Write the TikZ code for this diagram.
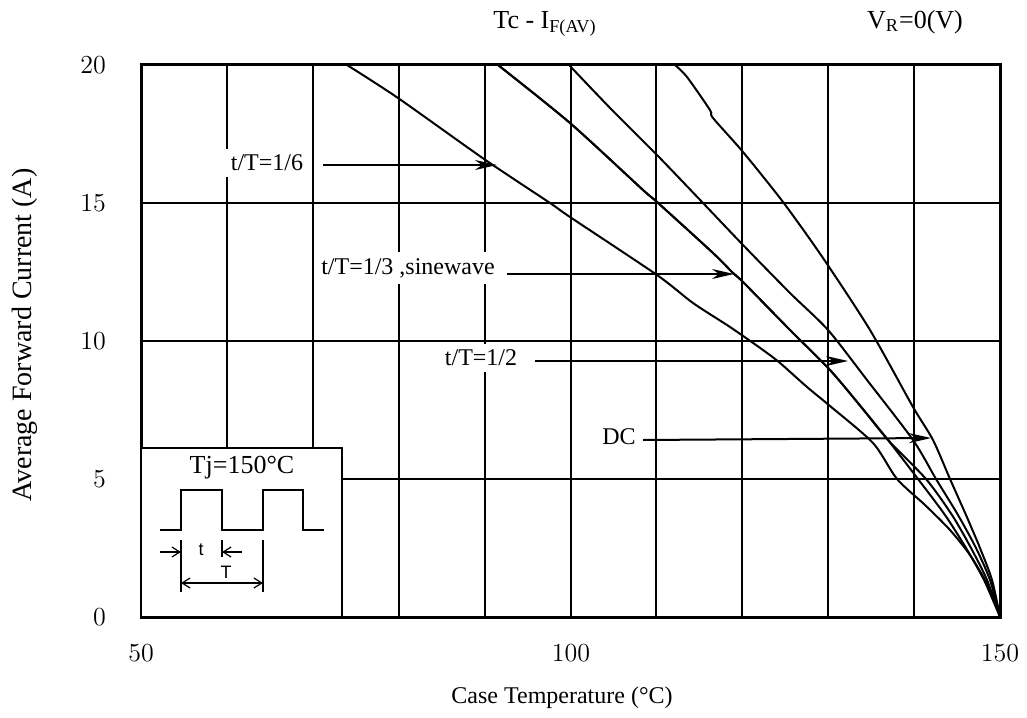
\documentclass[tikz,border=0pt]{standalone}
\usepackage{fontspec}
\newfontfamily\tnr{Liberation Serif}
\newfontfamily\arl{Liberation Sans}
\usetikzlibrary{arrows.meta}
\begin{document}
\begin{tikzpicture}[x=0.5pt,y=-0.5pt,
  gridline/.style={line width=1pt},
  frame/.style={line width=1.5pt},
  curve/.style={line width=1pt, smooth, tension=0.45},
  arr/.style={line width=1pt, -{Stealth[length=11pt,width=5pt,inset=3.5pt]}},
  smallarr/.style={line width=0.6pt},
  lab/.style={fill=white, inner sep=3pt, font=\tnr\fontsize{12}{14}\selectfont},
  num/.style={font=\fontsize{13}{15}\selectfont},
  ttl/.style={font=\tnr\fontsize{13}{15}\selectfont}]
\useasboundingbox (0,0) rectangle (1027,717);
% grid
\foreach \i in {1,...,9} \draw[gridline] ({141+85.9*\i},65) -- ({141+85.9*\i},617);
\foreach \yy in {203,341,479} \draw[gridline] (141,\yy) -- (1000,\yy);
\draw[frame] (141,65) rectangle (1000,617);
% labels with white background
\node[lab] (l16) at (267,163) {t/T=1/6};
\node[lab] (l13) at (408,268) {t/T=1/3 ,sinewave};
\node[lab] (l12) at (481,358) {t/T=1/2};
\node[lab] (ldc) at (619,437) {DC};
% curves
\draw[curve] plot coordinates {(347,65) (398,98) (484,159) (550,203) (570,217) (657,275) (693,303) (730,327) (763,350) (780,363) (807,387) (830,406) (873,443) (897,479) (925,505) (950,530) (970,555) (985,580) (995,600) (1000,617)};
\draw[curve] plot coordinates {(498,65) (570,123) (643,190) (657,202) (713,253) (733,273) (743,282) (790,330) (830,370) (862,408) (888,440) (918,479) (945,515) (966,548) (984,580) (1000,617)};
\draw[curve] plot coordinates {(498,65) (570,123) (643,190) (657,202) (713,253) (733,273) (743,282) (790,330) (830,370) (862,408) (888,440) (926,479) (952,515) (971,548) (987,580) (1000,617)};
\draw[curve] plot coordinates {(569,65) (612,110) (657,155) (703,203) (743,245) (790,293) (828,330) (867,380) (913,440) (936,479) (958,515) (976,548) (990,580) (1000,617)};
\draw[curve] plot coordinates {(675,65) (687,77) (710,110) (713,118) (743,152) (783,202) (823,258) (870,330) (913,407) (933,440) (950,479) (966,515) (980,548) (992,580) (1000,617)};
% arrows
\coordinate (s16) at (323,165); \coordinate (e16) at (497,165);
\coordinate (s13) at (507,274); \coordinate (e13) at (734,274);
\coordinate (s12) at (535,361); \coordinate (e12) at (848,361);
\coordinate (sdc) at (643,440); \coordinate (edc) at (931,438);
\draw[arr] (s16) -- (e16);
\draw[arr] (s13) -- (e13);
\draw[arr] (s12) -- (e12);
\draw[arr] (sdc) -- (edc);
% inset
\draw[fill=white, line width=1.3pt] (141,448) rectangle (342,617);
\node[ttl] (tj) at (242,468) {Tj=150°C};
\draw[line width=0.9pt] (160,530) -- (181,530) -- (181,490) -- (222,490) -- (222,530) -- (263,530) -- (263,490) -- (303,490) -- (303,530) -- (324,530);
\draw[smallarr] (181,540) -- (181,592);
\draw[smallarr] (222,540) -- (222,557);
\draw[smallarr] (263,540) -- (263,592);
\coordinate (ta1) at (160,552); \coordinate (ta2) at (181,552);
\coordinate (tb1) at (242,552); \coordinate (tb2) at (222,552);
\coordinate (Ta) at (181,583); \coordinate (Tb) at (263,583);
\draw[smallarr,-{Straight Barb[length=4pt,width=5pt]}] (ta1) -- (ta2);
\draw[smallarr,-{Straight Barb[length=4pt,width=5pt]}] (tb1) -- (tb2);
\draw[smallarr,{Straight Barb[length=4pt,width=5pt]}-{Straight Barb[length=4pt,width=5pt]}] (Ta) -- (Tb);
\node[font=\arl\fontsize{9}{10}\selectfont] (tt) at (201,550) {t};
\node[font=\arl\fontsize{9}{10}\selectfont] (TT) at (226,572) {T};
% axis numbers
\node[num,anchor=east] (y20) at (113,65) {20};
\node[num,anchor=east] (y15) at (113,203) {15};
\node[num,anchor=east] (y10) at (113,341) {10};
\node[num,anchor=east] (y5) at (113,479) {5};
\node[num,anchor=east] (y0) at (113,617) {0};
\node[num] (x50) at (141,653) {50};
\node[num] (x100) at (571,653) {100};
\node[num] (x150) at (1000,653) {150};
% axis titles
\node[rotate=90, font=\tnr\fontsize{14}{16}\selectfont] (ylab) at (25,335) {Average Forward Current (A)};
\node[font=\tnr\fontsize{12}{14}\selectfont] (xlab) at (562,698) {Case Temperature (°C)};
\node[ttl] (title) at (545,24) {Tc - I\textsubscript{F(AV)}};
\node[ttl] (vr) at (915,22) {V\textsubscript{R}=0(V)};
\end{tikzpicture}
\end{document}
